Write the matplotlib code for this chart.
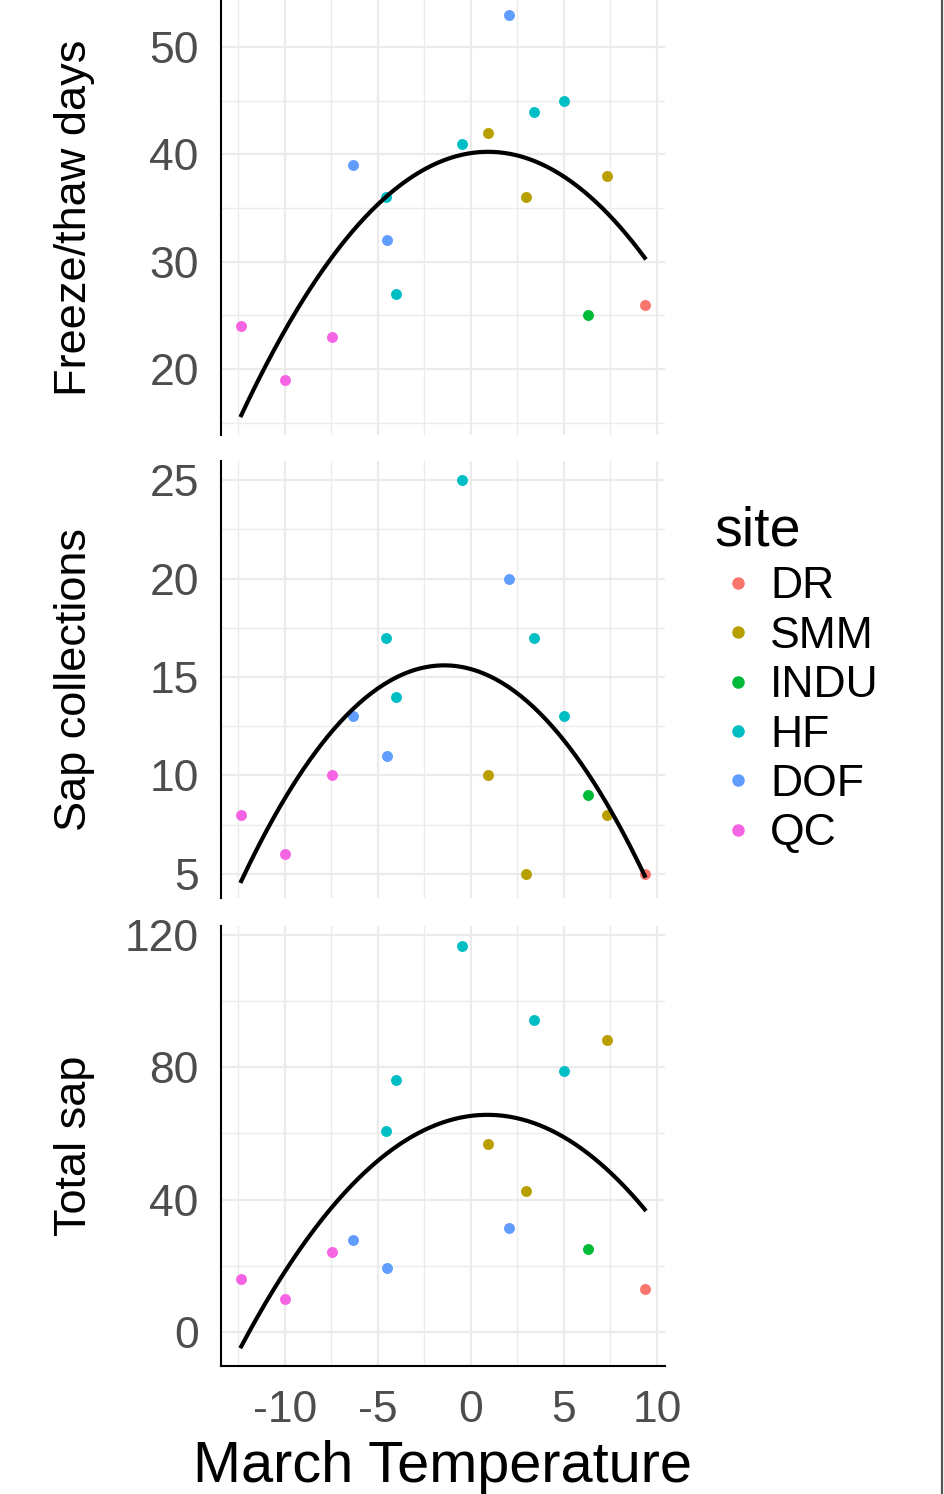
import numpy as np
import matplotlib
matplotlib.use("Agg")
import matplotlib.pyplot as plt
from matplotlib.lines import Line2D

plt.rcParams['font.family'] = ['Liberation Sans', 'DejaVu Sans']
plt.rcParams['axes.unicode_minus'] = False

# one row per site-year
site = ['QC', 'QC', 'QC', 'DOF', 'DOF', 'HF', 'HF', 'HF', 'SMM', 'DOF',
        'SMM', 'HF', 'HF', 'INDU', 'SMM', 'DR']
march_temp = [-12.35, -10.0, -7.49, -6.34, -4.5, -4.59, -4.05, -0.5, 0.93, 2.06,
              2.97, 3.39, 5.02, 6.31, 7.29, 9.34]
freeze_thaw = [24, 19, 23, 39, 32, 36, 27, 41, 42, 53, 36, 44, 45, 25, 38, 26]
sap_collections = [8, 6, 10, 13, 11, 17, 14, 25, 10, 20, 5, 17, 13, 9, 8, 5]
total_sap = [16, 10, 24.2, 27.7, 19.4, 60.7, 76.3, 116.7, 56.8, 31.4,
             42.5, 94.3, 78.9, 25.2, 88.2, 13.1]

site_order = ['DR', 'SMM', 'INDU', 'HF', 'DOF', 'QC']
site_colors = ['#F8766D', '#B79F00', '#00BA38', '#00BFC4', '#619CFF', '#F564E3']

ylabels = ['Freeze/thaw days', 'Sap collections', 'Total sap']
yticks_major = [[20, 30, 40, 50], [5, 10, 15, 20, 25], [0, 40, 80, 120]]
yticks_minor = [[15, 25, 35, 45], [7.5, 12.5, 17.5, 22.5], [20, 60, 100]]
ylims = [(13.85, 54.4), (3.77, 25.97), (-10.3, 122.8)]

W, H = 945, 1494
fig = plt.figure(figsize=(W / 100, H / 100), dpi=100)

# panel boxes in pixels: (top, bottom)
panels = [(0, 435), (461, 898), (925.7, 1366)]
left_px, right_px = 221, 665

x = np.array(march_temp)
col = {s: c for s, c in zip(site_order, site_colors)}
series = [freeze_thaw, sap_collections, total_sap]

axes = []
for i, (top, bot) in enumerate(panels):
    ax = fig.add_axes([left_px / W, 1 - bot / H, (right_px - left_px) / W, (bot - top) / H])
    axes.append(ax)
    y = np.array(series[i], dtype=float)
    for s in site_order:
        m = np.array([t == s for t in site])
        ax.scatter(x[m], y[m], s=62, color=col[s], linewidths=0, zorder=3, label=s)
    # quadratic fit like geom_smooth(method = lm, y ~ poly(x, 2))
    c = np.polyfit(x, y, 2)
    xs = np.linspace(x.min(), x.max(), 200)
    ax.plot(xs, np.polyval(c, xs), color='black', lw=3.0, zorder=4)

    ax.set_xlim(-13.44, 10.43)
    ax.set_ylim(*ylims[i])
    ax.set_xticks([-10, -5, 0, 5, 10])
    ax.set_xticks([-12.5, -7.5, -2.5, 2.5, 7.5], minor=True)
    ax.set_yticks(yticks_major[i])
    ax.set_yticks(yticks_minor[i], minor=True)
    ax.grid(which='major', color='#EBEBEB', lw=1.6, zorder=0)
    ax.grid(which='minor', color='#EBEBEB', lw=1.0, zorder=0)
    ax.set_axisbelow(True)
    for sp in ['top', 'right', 'bottom']:
        ax.spines[sp].set_visible(False)
    ax.spines['left'].set_linewidth(1.5)
    ax.tick_params(which='both', length=0)
    ax.tick_params(axis='y', labelsize=32, labelcolor='#4D4D4D', pad=16)
    if i < 2:
        ax.tick_params(axis='x', labelbottom=False)
    else:
        ax.spines['bottom'].set_visible(True)
        ax.spines['bottom'].set_linewidth(1.5)
        ax.tick_params(axis='x', labelsize=32, labelcolor='#4D4D4D', pad=17)
    fig.text(75 / W, 1 - (top + bot) / 2 / H, ylabels[i], rotation=90,
             ha='center', va='center', fontsize=32.5)

fig.text(443 / W, 1 - 1467 / H, 'March Temperature', ha='center', va='center', fontsize=41.5)

handles = [Line2D([], [], marker='o', ls='', color=c, markersize=8) for c in site_colors]
leg = fig.legend(handles, site_order, title='site', loc='upper left',
                 bbox_to_anchor=(697 / W, 1 - 488 / H), frameon=False,
                 fontsize=32, title_fontsize=40, labelspacing=0.19,
                 handletextpad=0.2, handlelength=1.05, borderaxespad=0)
leg._legend_box.align = 'left'

# thin grey border at the right edge of the picture
fig.add_artist(Line2D([942 / W, 942 / W], [0, 1], transform=fig.transFigure,
                      color='#555555', lw=1.6))

fig.savefig('out.png', dpi=100)
